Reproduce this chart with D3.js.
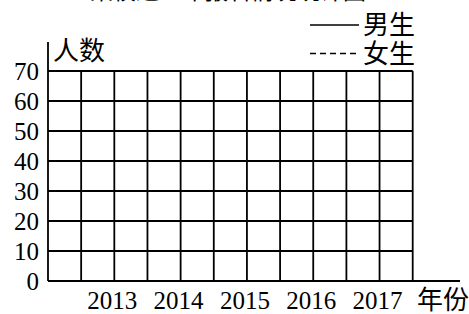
<!DOCTYPE html>
<html>
<head>
<meta charset="utf-8">
<script src="https://cdn.jsdelivr.net/npm/d3@7"></script>
<style>
  html, body { margin: 0; padding: 0; background: #fff; }
  svg text { fill: #000; }
</style>
</head>
<body>
<div class="chart"></div>
<script>
// Data
const years = [2013, 2014, 2015, 2016, 2017];
const yTicks = [0, 10, 20, 30, 40, 50, 60, 70];
const seriesNames = ["男生", "女生"];
const titleText = "某校近五年报名情况统计图";
const yTitle = "人数";
const xTitle = "年份";

// Layout
const width = 469;
const height = 314;
const fontFamily = "'Liberation Serif', 'Times New Roman', 'DejaVu Serif', 'Noto Sans CJK SC', serif";

const svg = d3.select("body").select(".chart").append("svg")
  .attr("width", width)
  .attr("height", height)
  .attr("font-family", fontFamily);

// Scales: grid is half-year columns, 2012 at the y axis
const xScale = d3.scaleLinear().domain([2012, 2017.5]).range([48, 412.7]);
const yScale = d3.scaleLinear().domain([0, 70]).range([281, 71]);

const gridX = d3.range(2012, 2017.51, 0.5);

// title, mostly cut off at the top (as in the source picture)
svg.append("text")
  .attr("x", 228)
  .attr("y", -1.5)
  .attr("text-anchor", "middle")
  .style("font-size", "23px")
  .text(titleText);

const grid = svg.append("g").attr("stroke", "#000").attr("stroke-width", 1.8);

// horizontal grid lines
grid.selectAll(".h")
  .data(yTicks.filter(d => d > 0))
  .enter().append("line")
  .attr("class", "h")
  .attr("x1", xScale(2012))
  .attr("x2", xScale(2017.5))
  .attr("y1", d => yScale(d))
  .attr("y2", d => yScale(d));

// vertical grid lines
grid.selectAll(".v")
  .data(gridX.slice(1))
  .enter().append("line")
  .attr("class", "v")
  .attr("x1", d => xScale(d))
  .attr("x2", d => xScale(d))
  .attr("y1", yScale(0))
  .attr("y2", yScale(70));

// axes
grid.append("line")
  .attr("x1", xScale(2012)).attr("x2", 460)
  .attr("y1", yScale(0)).attr("y2", yScale(0));
grid.append("line")
  .attr("x1", xScale(2012)).attr("x2", xScale(2012))
  .attr("y1", yScale(0)).attr("y2", 42);

// y tick labels
svg.selectAll(".ylab")
  .data(yTicks)
  .enter().append("text")
  .attr("class", "ylab")
  .attr("x", 39)
  .attr("y", d => yScale(d) + 9)
  .attr("text-anchor", "end")
  .style("font-size", "25px")
  .text(d => d);

// x tick labels
svg.selectAll(".xlab")
  .data(years)
  .enter().append("text")
  .attr("class", "xlab")
  .attr("x", d => xScale(d) - 2)
  .attr("y", 309)
  .attr("text-anchor", "middle")
  .style("font-size", "25px")
  .text(d => d);

// axis titles
svg.append("text")
  .attr("x", 53).attr("y", 60)
  .style("font-size", "26px")
  .text(yTitle);
svg.append("text")
  .attr("x", 417).attr("y", 309)
  .style("font-size", "26px")
  .text(xTitle);

// legend
const legend = svg.selectAll(".legend")
  .data(seriesNames)
  .enter().append("g")
  .attr("class", "legend")
  .attr("transform", (d, i) => `translate(0,${25 + i * 28.5})`);

legend.append("line")
  .attr("x1", 310).attr("x2", 359)
  .attr("y1", 0).attr("y2", 0)
  .attr("stroke", "#000")
  .attr("stroke-width", 1.5)
  .attr("stroke-dasharray", (d, i) => i === 0 ? null : "6,4");

legend.append("text")
  .attr("x", 363)
  .attr("y", 9)
  .style("font-size", "26px")
  .text(d => d);
</script>
</body>
</html>
